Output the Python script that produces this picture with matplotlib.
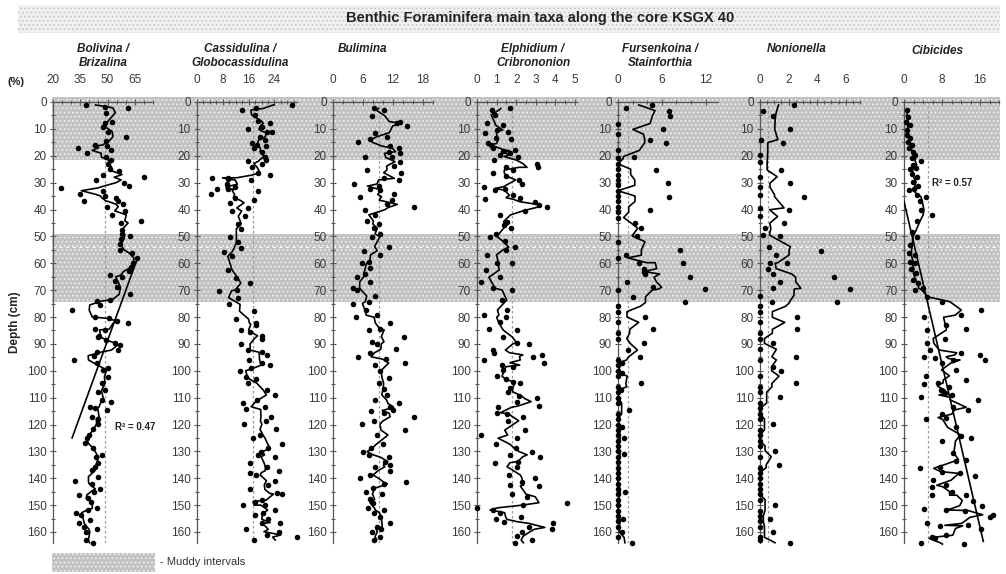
import numpy as np
import pandas as pd
import matplotlib
matplotlib.use("Agg")
import matplotlib.pyplot as plt
from matplotlib.patches import Rectangle

plt.rcParams['font.family'] = ['Liberation Sans', 'DejaVu Sans']
plt.rcParams['hatch.linewidth'] = 0.7

# ---- data (depth in cm, abundance in %) ----
muddy = [(-2, 21.5), (49, 74.5)]

boliv_d = [1.1, 1.7, 2.2, 4, 7.3, 7.9, 9.2, 11, 12.9, 14.5, 16, 16.5, 17, 18, 19.1, 20.5, 21.5, 23, 25, 25.5,
           27, 28, 29, 30, 31.2, 32, 33, 34.4, 35, 35.6, 36.8, 37, 38, 38.9, 40.5, 42, 44.2, 45, 47.6, 49.3,
           49.8, 51, 53, 55, 56.3, 58, 60, 61.5, 63, 64.5, 65, 66.7, 69, 71.6, 73.5, 74, 75.5, 77.4, 80, 80.5,
           81.6, 82.3, 84.5, 84.8, 86.9, 87.5, 88.5, 89.5, 90.4, 92.3, 92.9, 94.4, 96, 97, 99, 99.7, 102.2,
           104.7, 107.2, 107.8, 110.9, 111.7, 113.6, 114, 114.6, 117.1, 118, 119.8, 121.8, 123.9, 125.1, 127,
           128.9, 131.3, 132, 134.5, 135.7, 137, 139.4, 141.2, 142, 144, 145, 146.2, 147.5, 148.7, 151.2,
           151.8, 152.8, 153.7, 155.5, 156.8, 158, 159, 159.9, 163, 164]
boliv_v = [38, 48.7, 61.2, 49, 52.6, 48.6, 47.5, 50, 60, 49, 43.3, 49.5, 33.9, 52, 38.7, 49, 52, 50, 51.5, 56.3,
           47.5, 70, 43.5, 59, 61.7, 24.3, 47.5, 35, 48.6, 54.8, 36.8, 55.7, 58.4, 49.5, 59.8, 52.6, 68.5, 57.4, 58, 58,
           62.5, 57.4, 57, 57, 63.3, 66, 64, 63, 62, 51.5, 58, 54, 55, 62.5, 51.5, 44, 46, 30.7, 43, 51,
           55, 61.2, 43, 48.7, 45.2, 44.5, 49, 54, 56.6, 56, 44, 42.3, 31.8, 44.4, 50.4, 47.7, 50.4,
           46.8, 48.6, 45, 46.8, 51.8, 40.5, 43.3, 49.5, 41.5, 45, 45, 41.9, 39.6, 38.7, 37.4,
           42.2, 47, 43.6, 45, 43.2, 41.5, 45, 32, 41.5, 46, 42.3, 34.2, 39.5, 41, 44.4,
           39.4, 32.6, 35.5, 40.4, 34.3, 37, 44.3, 38.2, 38.2, 42]

cass_d = [1, 2.4, 3, 4.8, 7, 7.9, 9.2, 10.2, 11, 11.3, 12.9, 14.1, 15.1, 16, 16.3, 17.2, 18.5, 20.3, 21.5, 22,
          22.9, 24.3, 26.3, 27.2, 28.2, 28.2, 28.8, 29, 30.6, 31.6, 32.4, 32.4, 33, 34.4, 35.6, 36.5, 37.5, 39.4,
          40.6, 42.5, 45.3, 47.2, 50.2, 52.2, 54.3, 55.8, 57.4, 62.4, 65.5, 67.4, 69.9, 70.3, 72.8, 75.3, 77.8,
          80.8, 82.1, 82.8, 84.8, 85.5, 87, 88, 90, 92.3, 93.1, 94.1, 96, 97.2, 97.9, 99, 100, 102.2, 103.2,
          104.7, 107.2, 109, 110.9, 111.9, 113.4, 114.4, 117.1, 118.7, 119.9, 121.8, 123.9, 125.1, 127.3,
          128.9, 130.1, 131.3, 132, 134.4, 135.9, 137.2, 137.9, 138.8, 140.9, 142.5, 144.1, 145.6, 145.9,
          148.1, 148.7, 150, 150, 151.8, 152.8, 153.7, 155.3, 156.5, 156.8, 159, 159.9, 161.1, 161.9, 163]
cass_v = [29.5, 18.3, 13.8, 18, 19, 22.6, 20, 15.9, 21.8, 23.1, 19.5, 21, 16.9, 18.5, 21.4, 17.6, 20, 21, 21.4, 15.9,
          20, 16.9, 19, 22.6, 9.5, 4.7, 9.7, 16.6, 9.2, 11.7, 6.1, 9.7, 18.8, 4.3, 11.9, 17.6, 10.3, 15.9,
          10.8, 14.8, 12.8, 13.5, 10.3, 12.8, 13.5, 8.3, 10.8, 9.6, 12.1, 16.3, 12.4, 6.9, 12.7, 9.8, 17.6,
          12.1, 18.3, 18.2, 13.5, 16.3, 20, 20, 13.5, 15.9, 20, 21.8, 16.1, 20.3, 22.6, 16.8, 13.3, 15.2, 18.3,
          15.7, 21.8, 24.2, 18.5, 14.2, 21, 15.2, 23, 21.3, 14.7, 24.4, 19.5, 17.4, 26.4,
          22, 19.7, 19, 24.2, 16.5, 21.8, 25.3, 16.3, 18.3, 24.2, 22.1, 16.3, 24.7, 26.4,
          20, 18, 14.2, 21, 24.2, 20.5, 18, 22.1, 20.3, 25.7, 15.2, 25.3, 21.8, 30.9, 17.6]

bulim_d = [2.4, 3, 5.2, 7.3, 7.9, 8.9, 11.4, 12.9, 13.9, 15, 16.4, 17.2, 18.5, 19.1, 20.3, 20.6, 22.2, 23.8, 25.3,
           26.3, 28.4, 29, 30.5, 31.3, 32.2, 32.8, 34.4, 35.2, 36.5, 38.1, 39.2, 40.1, 42, 44.2, 45.4, 47, 49.1,
           50.1, 53.8, 55.3, 56.9, 59.4, 60, 61.9, 64, 65, 66.9, 69.3, 70, 72.2, 74.3, 75, 77.4, 79.3, 80.1,
           82.2, 84.3, 84.8, 87.3, 89.2, 90, 92, 93.3, 94.8, 95.7, 97.2, 97.9, 100, 102.8, 104.7, 106.9, 109,
           110.9, 112.1, 113.6, 114.6, 114.8, 115.8, 117.1, 118.7, 119.9, 122.1, 123.9, 127.3, 128.9, 130.1,
           131.3, 132.2, 133.8, 135.1, 135.7, 137.2, 138.8, 140, 141.3, 142.1, 143.8, 145, 145.9, 147.9, 149.1,
           151.2, 151.8, 152.8, 154.3, 156.8, 158, 159, 159.9, 161.7, 163]
bulim_v = [8.1, 10.1, 7.7, 13.4, 12.7, 14.7, 8.4, 10.7, 7.3, 4.9, 11.4, 13.1, 11.1, 13.4, 6.4, 11.7, 13.4, 12.1, 6.7,
           13.6, 10.1, 13.1, 4.2, 9.1, 7.4, 9.4, 12.1, 5.3, 11.7, 10.7, 16.2, 6.4, 8.4, 6.7, 9.1, 8.1, 9.4,
           7.7, 11.1, 6.1, 9.3, 7.1, 5.7, 7.3, 6.4, 4.7, 7.4, 3.9, 4.7, 8.4, 7.1, 3.9, 6.6, 8.7, 4.6,
           11.4, 9.4, 7.1, 14.2, 7.7, 8.7, 12.6, 7.4, 4.9, 10.6, 14.4, 8.4, 9.3, 11.1, 9.1, 10.2, 10.7,
           8.4, 13.1, 11.4, 11.9, 7.5, 10.1, 16.1, 8.1, 5.7, 14.4, 8.7, 9.9, 7.5, 5.9,
           7.1, 11.1, 10.4, 11.4, 8.4, 11.3, 7.3, 5.4, 14.6, 10.1, 7.9, 6.6, 9.7, 7.4, 7.9,
           6.9, 10.2, 8.2, 9.4, 11.3, 8.7, 9.5, 7.7, 9.4, 8.1]

elph_d = [2.4, 3, 4.8, 7.9, 8.6, 10.4, 11, 11.4, 13.5, 13.9, 15.4, 16, 17.2, 17.8, 18.1, 18.8, 19.7, 20.3, 21.6,
          22.9, 24.3, 24.3, 25.3, 26.3, 27.5, 29, 30.5, 31.5, 32.2, 32.8, 34.7, 35.6, 36.2, 37.1, 38.3, 39.2,
          40.4, 42, 44.5, 45.8, 47, 49.1, 50.1, 51.9, 54, 55.1, 56.9, 59.8, 60, 62.5, 65.2, 66.9, 69.3, 70,
          73.7, 77.4, 79.3, 80.1, 81.8, 84.3, 84.9, 87.5, 89.5, 90, 92.3, 93.3, 94.1, 94.7, 96, 97, 97.9,
          98.5, 99.7, 102, 103.2, 104.1, 104.7, 106.5, 107.8, 109.4, 110.3, 111.5, 113.1, 113.6, 115.6, 116.1,
          117.1, 118.6, 122.1, 123.9, 125.1, 127.3, 128.9, 130.1, 131.3, 132, 133.8, 134.2, 135.7, 138.8, 140,
          141.3, 142.5, 142.9, 145.9, 146.9, 149.1, 150, 151, 151.8, 152.8, 154.3, 155.3, 156.2, 156.8, 158.3,
          159, 159.9, 161.5, 163, 164]
elph_v = [1.68, 0.75, 0.92, 0.5, 1.34, 1.0, 1.6, 0.41, 0.97, 1.72, 0.58, 0.7, 0.83, 1.94, 1.34, 1.68, 1.17, 2.1, 0.87,
          3.05, 3.1, 1.5, 1.85, 0.83, 1.48, 2.16, 2.28, 0.36, 1.43, 0.92, 1.85, 2.19, 0.41, 2.96, 3.18, 3.55,
          2.45, 1.17, 1.51, 1.38, 1.72, 0.97, 0.66, 1.43, 1.94, 1.48, 0.5, 1.0, 1.77, 0.46, 1.17, 0.19, 0.83, 1.77,
          1.26, 1.51, 0.36, 1.48, 1.17, 0.63, 2.06, 1.34, 2.02, 2.67, 0.8, 0.87, 3.3, 2.84, 0.36, 3.42, 1.26,
          1.85, 1.31, 1.04, 1.48, 1.85, 2.19, 1.68, 1.6, 2.16, 3.08, 2.02, 3.18, 1.09, 1.0, 1.51,
          2.33, 1.6, 2.45, 0.19, 2.06, 0.97, 1.99, 2.79, 1.68, 3.21, 2.11, 0.92, 2.02, 1.65, 2.96,
          2.28, 1.68, 3.18, 1.77, 2.54, 4.61, 2.33, 0.0, 0.83, 1.17, 2.23, 0.97, 1.38, 3.89, 2.67,
          3.81, 2.28, 2.02, 2.79, 1.94]

furs_d = [1.1, 2.4, 3.2, 5.2, 8, 10.2, 12, 14.1, 15.1, 18, 20.3, 21, 23, 25, 25.3, 27, 29, 30.2, 31, 33, 35,
          35.2, 37, 39, 40.1, 41, 43, 45.1, 47, 49.8, 52, 55, 57, 58, 59.8, 59.8, 62, 63.1, 64, 65.2, 67, 68.9,
          69.6, 70, 72.5, 74.6, 76, 78, 80, 82, 84.6, 86, 88, 89.8, 92.3, 94.8, 96, 97, 98, 100, 101, 102, 104.7,
          106, 107, 108, 110, 112, 114.6, 116, 118, 120, 121, 122, 124, 125, 126, 128, 130, 131, 132, 134, 136,
          138, 140, 142, 144, 145, 146, 148, 150, 152, 154, 155, 156, 158, 160, 162, 164]
furs_v = [4.6, 1.1, 7.0, 7.1, 0, 6.1, 0, 4.4, 6.6, 0, 2.2, 0, 0, 0, 5.2, 0, 0, 6.9, 0, 0, 0,
          7.0, 0, 0, 4.4, 0, 0, 2.3, 3.2, 2.6, 0, 8.5, 1.1, 0, 2.9, 8.9, 3.5, 3.5, 3.7, 9.9, 1.2, 4.8,
          11.9, 0, 2.1, 9.2, 0, 0, 3.7, 0, 4.8, 0, 0, 3.6, 1.4, 3.0, 0, 0.5, 0, 0, 0.6, 0, 3.2,
          0, 0.4, 0, 0, 0, 1.5, 0, 0, 0, 0.6, 0, 0, 0.8, 0, 0, 0, 0.8, 0, 0, 0,
          0, 0, 0, 0, 0.9, 0, 0, 0, 0, 0, 0.7, 0, 0, 0.6, 0, 1.9]

nonio_d = [1.1, 3.2, 5.2, 10.2, 14, 15.1, 19.7, 22.5, 25.3, 27.8, 30.2, 31.7, 34.5, 35.2, 39.4, 40.1, 42.6, 45.1,
           47, 49.5, 49.8, 53.8, 55.3, 56.9, 59.8, 60, 62, 64, 65.2, 66.9, 69.3, 69.6, 72, 74.3, 74.6, 76, 78,
           80.1, 82, 84.6, 86, 88, 89.8, 92, 94.8, 96, 98.5, 100, 102, 104.7, 106, 108, 109.9, 112, 114, 116,
           118, 119.8, 122, 124, 126, 128, 129.7, 132, 135, 136, 138, 140, 142, 144, 146, 148, 150, 152, 154,
           155, 156, 158, 160, 162, 163, 164]
nonio_v = [2.4, 0.19, 0.94, 2.1, 0.05, 1.6, 0, 0, 1.5, 0, 2.1, 0, 0, 3.05, 0, 2.0, 0, 1.7,
           0.35, 0.23, 1.4, 0.66, 4.3, 1.13, 0.7, 1.9, 0.59, 0.89, 5.2, 1.4, 0.89, 6.3, 0, 0.82, 5.4, 0, 0,
           2.6, 0, 2.6, 0, 0, 0.94, 0, 2.5, 0, 0.94, 1.5, 0, 2.5, 0, 0, 1.4, 0, 0, 0,
           0, 0.94, 0, 0, 0, 0, 1.06, 0, 1.3, 0, 0, 0, 0, 0, 0, 0, 1.06, 0, 0,
           0.7, 0, 0, 0.94, 0, 0, 2.1]

cibic_d = [3, 5.5, 7.3, 8.6, 10.4, 12.3, 13.5, 14.8, 16, 17.2, 18.5, 19.7, 20.9, 21.8, 23.4, 24.7, 25, 26.8, 28,
           29.7, 31.3, 32.2, 32.8, 34.5, 35.2, 36.7, 40.1, 42, 44.2, 48.3, 50.1, 53.2, 56.3, 56.9, 59.4, 60, 62,
           63.8, 66.3, 67.5, 69.3, 69.8, 72.5, 74.3, 77.4, 79.3, 80.1, 83, 84.3, 84.9, 88, 89.8, 92.3, 93.3,
           94.1, 94.8, 95.4, 96, 96, 97.2, 99.7, 101.9, 103.4, 104.7, 104.9, 105.9, 107.2, 108.4, 109, 109.9,
           110.9, 113.6, 114.6, 116.1, 117.4, 118.1, 121.1, 124.3, 124.9, 126.2, 130.6, 133.1, 133.7, 135.7,
           136.3, 137.5, 138.2, 139.2, 140.7, 142.6, 143.2, 145, 146.3, 146.3, 148.3, 150.2, 151.4, 151.8, 152,
           153.6, 154.5, 156.8, 157.5, 157.7, 158.7, 161.2, 161.8, 162.4, 164, 164.5]
cibic_v = [0.56, 0.9, 0.42, 1.27, 0.56, 0.7, 1.27, 0.9, 1.6, 1.1, 1.9, 2.25, 1.6, 3.5, 1.9, 2.6, 1.27, 1.6, 2.8,
           1.8, 3.0, 2.0, 1.1, 2.8, 4.6, 3.3, 3.5, 5.8, 2.8, 1.6, 2.8, 1.27, 1.1, 2.25, 1.27, 2.25, 1.4,
           2.6, 1.9, 3.0, 4.0, 2.25, 4.8, 8.0, 16.2, 12, 4.2, 8.8, 13.1, 4.9, 8.6, 4.9, 5.4, 12,
           15.9, 4.2, 6.6, 17, 10.3, 8.1, 11, 4.6, 13.1, 7.2, 4.2, 9.5, 7.8, 8.6, 10, 3.5,
           15.6, 10.3, 13.4, 8.1, 8.8, 4.6, 11, 12, 14.1, 8.1, 10.3, 13.1, 11, 7.5,
           3.3, 8.0, 11.7, 14.9, 6.1, 8.8, 5.8, 10, 13, 5.8, 14.5, 16.5, 4.2, 8.8, 12.8,
           18.8, 18.1, 4.9, 13.4, 7.5, 16.2, 8.8, 5.8, 6.6, 3.5, 12.7]

# mean values (dashed verticals) and linear trends
means = [48.5, 17.4, 9.2, 1.77, 1.4, 0.54, 5.1]
boliv_trend_d, boliv_trend_v = [59, 125], [66, 30.5]
cibic_trend_d, cibic_trend_v = [37, 163.5], [0, 16.7]

taxa = ["Bolivina /\nBrizalina", "Cassidulina /\nGlobocassidulina", "Bulimina", "Elphidium /\nCribrononion",
        "Fursenkoina /\nStainforthia", "Nonionella", "Cibicides"]
xticks = [[20, 35, 50, 65], [0, 8, 16, 24], [0, 6, 12, 18], [0, 1, 2, 3, 4, 5], [0, 6, 12], [0, 2, 4, 6], [0, 8, 16]]
xminor = [5, 2, 2, 0.5, 2, 0.5, 2]
xlims = [(20, 75), (0, 31), (0, 20), (0, 5.1), (0, 13.7), (0, 7), (0, 20)]
series = [(boliv_d, boliv_v), (cass_d, cass_v), (bulim_d, bulim_v), (elph_d, elph_v),
          (furs_d, furs_v), (nonio_d, nonio_v), (cibic_d, cibic_v)]

# ---- layout (pixels) ----
W, H = 1006, 574
TOP, PXCM, DMAX = 102.0, 2.6875, 164
lefts = [53, 197, 333, 477, 618, 760, 904]
widths = [100, 100, 100, 100, 100, 100, 95]
title_x = [103, 240, 363, 533, 660, 797, 937]
title_y = [56, 56, 49, 56, 56, 49, 51]
GRAY = '#3a3a3a'
SHADE, DOTS = '#c2c2c2', '#f2f2f2'


def box(l, t, w, h):
    return [l / W, 1 - (t + h) / H, w / W, h / H]


fig = plt.figure(figsize=(W / 100, H / 100), dpi=100)

# muddy intervals background
bg = fig.add_axes(box(52, TOP - 2 * PXCM, 948, (DMAX + 2) * PXCM))
bg.set_xlim(0, 1)
bg.set_ylim(DMAX, -2)
bg.axis('off')
for a, b in muddy:
    bg.axhspan(a, b, facecolor=SHADE, edgecolor=DOTS, hatch='....', lw=0)
bg.axhline(54, color='white', lw=0.8, ls=(0, (3, 3)))

# title band
tb = fig.add_axes(box(18, 5, 982, 28))
tb.axis('off')
tb.add_patch(Rectangle((0, 0), 1, 1, transform=tb.transAxes, facecolor='#f0f0f0',
                       edgecolor='#c4c4c4', hatch='....', lw=0))
fig.text(540 / W, 1 - 18 / H, 'Benthic Foraminifera main taxa along the core KSGX 40',
         ha='center', va='center', fontsize=10.5, fontweight='bold', color='#222222')

for i in range(7):
    ax = fig.add_axes(box(lefts[i], TOP, widths[i], DMAX * PXCM))
    ax.patch.set_alpha(0)
    ax.set_xlim(*xlims[i])
    ax.set_ylim(DMAX, 0)
    for s in ['right', 'bottom']:
        ax.spines[s].set_visible(False)
    for s in ['left', 'top']:
        ax.spines[s].set_color('#555555')
        ax.spines[s].set_linewidth(0.9)
    ax.xaxis.tick_top()
    ax.set_xticks(xticks[i])
    ax.set_xticks(np.arange(xlims[i][0], xlims[i][1] + 1e-6, xminor[i]), minor=True)
    ax.set_yticks(np.arange(0, 161, 10))
    ax.set_yticks(np.arange(0, 161, 5), minor=True)
    ax.tick_params(which='both', direction='inout', color='#555555', width=0.8)
    ax.tick_params(which='major', length=5, labelsize=8.5, labelcolor=GRAY)
    ax.tick_params(which='minor', length=3)
    ax.tick_params(axis='x', pad=9)
    ax.tick_params(axis='y', pad=2)

    d, v = series[i]
    df = pd.DataFrame({'d': d, 'v': v}).sort_values('d')
    smooth = df['v'].rolling(3, center=True, min_periods=1).mean()
    ax.axvline(means[i], color='#9a9a9a', lw=0.9, ls=(0, (2, 2)), zorder=1)
    ax.plot(smooth, df['d'], color='black', lw=1.2, zorder=3, clip_on=False)
    ax.scatter(df['v'], df['d'], s=16, color='black', zorder=4, clip_on=False, linewidths=0)

    fig.text(title_x[i] / W, 1 - title_y[i] / H, taxa[i], ha='center', va='center', fontsize=8.5,
             fontweight='bold', fontstyle='italic', color='#222222', linespacing=1.25)

    if i == 0:
        ax.plot(boliv_trend_v, boliv_trend_d, color='black', lw=1.2, zorder=3)
        ax.set_ylabel('Depth (cm)', fontsize=8.5, fontweight='bold', color='#222222', labelpad=4)
    if i == 6:
        ax.plot(cibic_trend_v, cibic_trend_d, color='black', lw=1.2, zorder=3)

fig.text(115 / W, 1 - 427 / H, 'R² = 0.47', fontsize=7, fontweight='bold', va='center', color='#222222')
fig.text(932 / W, 1 - 183 / H, 'R² = 0.57', fontsize=7, fontweight='bold', va='center', color='#222222')
fig.text(8 / W, 1 - 82 / H, '(%)', fontsize=8, fontweight='bold', va='center', color='#222222')

# legend
lg = fig.add_axes(box(52, 553, 103, 19))
lg.axis('off')
lg.add_patch(Rectangle((0, 0), 1, 1, transform=lg.transAxes, facecolor=SHADE,
                       edgecolor=DOTS, hatch='....', lw=0))
fig.text(160 / W, 1 - 562 / H, '- Muddy intervals', fontsize=8, va='center', color='#333333')

fig.savefig('out.png', dpi=100)
